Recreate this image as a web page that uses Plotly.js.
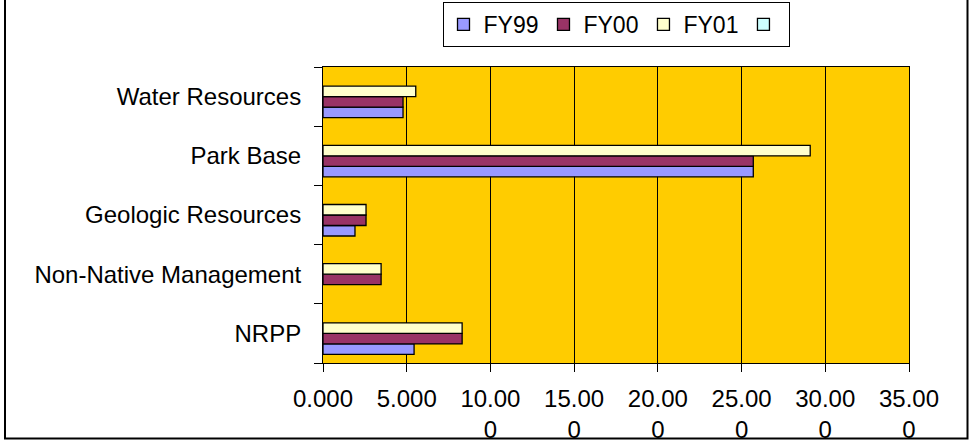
<!DOCTYPE html>
<html>
<head>
<meta charset="utf-8">
<script src="https://cdn.plot.ly/plotly-3.0.1.min.js"></script>
<style>
  html, body { margin: 0; padding: 0; background: #ffffff; }
  #chart { width: 969px; height: 445px; }
</style>
</head>
<body>
<div id="chart"></div>
<script>
// Categories, bottom to top
const categories = ["NRPP", "Non-Native Management", "Geologic Resources", "Park Base", "Water Resources"];

// Series values
const fy99 = [5.44, null, 1.91, 25.7, 4.78];
const fy00 = [8.31, 3.47, 2.57, 25.7, 4.78];
const fy01 = [8.31, 3.47, 2.57, 29.1, 5.54];
const series4 = [null, null, null, null, null];

const seriesNames = ["FY99", "FY00", "FY01", ""];
const seriesColors = ["#9999FF", "#993366", "#FFFFCC", "#CCFFFF"];

// Value axis ticks
const tickValues = [0, 5, 10, 15, 20, 25, 30, 35];
const tickLabels = ["0.000", "5.000", "10.00<br>0", "15.00<br>0", "20.00<br>0", "25.00<br>0", "30.00<br>0", "35.00<br>0"];

const seriesData = [fy99, fy00, fy01, series4];
const traces = seriesData.map((vals, i) => ({
  type: "bar",
  orientation: "h",
  name: seriesNames[i],
  y: categories,
  x: vals,
  marker: { color: seriesColors[i], line: { color: "#000000", width: 1.3 } },
  hoverinfo: "x+y"
}));

const FONT = "Liberation Sans, Arial, sans-serif";

// plot area in pixels: left 323, right 909, top 67, bottom 363
const L = 323, R = 909, T = 67, B = 363;
const px = v => (v - L) / (R - L);
const py = v => (B - v) / (B - T);

const layout = {
  width: 969,
  height: 445,
  margin: { l: L, r: 969 - R, t: T, b: 445 - B, pad: 0, autoexpand: false },
  paper_bgcolor: "#ffffff",
  plot_bgcolor: "#FFCC00",
  font: { family: FONT, size: 24, color: "#000000" },
  barmode: "group",
  bargap: 0.29,
  bargroupgap: 0,
  showlegend: true,
  legend: {
    orientation: "h",
    x: 0.5, xanchor: "center",
    y: py(2), yanchor: "top",
    bgcolor: "#ffffff",
    bordercolor: "#000000",
    borderwidth: 1,
    font: { family: FONT, size: 23, color: "#000000" },
    traceorder: "normal"
  },
  xaxis: {
    range: [0, 35],
    tickmode: "array",
    tickvals: tickValues,
    ticktext: tickLabels,
    ticks: "outside",
    ticklen: 8,
    tickcolor: "#000000",
    tickwidth: 1,
    showgrid: true,
    gridcolor: "#000000",
    gridwidth: 1,
    showline: true,
    linecolor: "#000000",
    linewidth: 1,
    mirror: true,
    zeroline: false,
    tickfont: { family: FONT, size: 24, color: "#000000" },
    ticklabelstandoff: 6,
    fixedrange: true
  },
  yaxis: {
    type: "category",
    categoryorder: "array",
    categoryarray: categories,
    tickson: "boundaries",
    ticks: "outside",
    ticklen: 8,
    tickcolor: "#000000",
    tickwidth: 1,
    showgrid: false,
    showline: true,
    linecolor: "#000000",
    linewidth: 1,
    mirror: true,
    zeroline: false,
    tickfont: { family: FONT, size: 24, color: "#000000" },
    ticklabelstandoff: 16,
    fixedrange: true
  },
  shapes: [
    {
      type: "rect", xref: "paper", yref: "paper", layer: "above",
      x0: px(5), x1: px(967.5), y0: py(438.5), y1: py(-3),
      line: { color: "#000000", width: 2 },
      fillcolor: "rgba(0,0,0,0)"
    }
  ]
};

Plotly.newPlot("chart", traces, layout, { displayModeBar: false, staticPlot: true });
</script>
</body>
</html>
